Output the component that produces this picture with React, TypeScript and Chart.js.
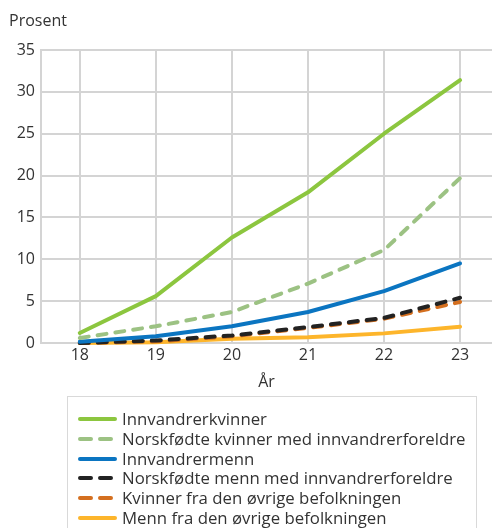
import React, { useEffect, useRef } from "react";
import { Chart, registerables } from "chart.js";

Chart.register(...registerables);

const years = [18, 19, 20, 21, 22, 23];
const innvandrerkvinner = [1.2, 5.6, 12.6, 18.0, 25.0, 31.4];
const norskfodteKvinner = [0.6, 2.0, 3.7, 7.1, 11.1, 19.7];
const innvandrermenn = [0.15, 0.8, 2.0, 3.7, 6.2, 9.5];
const norskfodteMenn = [0.0, 0.3, 0.9, 1.9, 3.0, 5.4];
const kvinnerOvrige = [0.0, 0.2, 0.8, 1.8, 2.9, 4.9];
const mennOvrige = [0.0, 0.1, 0.5, 0.7, 1.15, 1.95];

const seriesLabels = [
  "Innvandrerkvinner",
  "Norskfødte kvinner med innvandrerforeldre",
  "Innvandrermenn",
  "Norskfødte menn med innvandrerforeldre",
  "Kvinner fra den øvrige befolkningen",
  "Menn fra den øvrige befolkningen",
];
const seriesValues = [
  innvandrerkvinner,
  norskfodteKvinner,
  innvandrermenn,
  norskfodteMenn,
  kvinnerOvrige,
  mennOvrige,
];
const seriesColors = ["#8cc63f", "#9cc283", "#0b75c1", "#222222", "#d46f1f", "#fdb52b"];
const seriesDashed = [false, true, false, true, true, false];

const yAxisTitle = "Prosent";
const xAxisTitle = "År";

const FONT = '"Open Sans", "Noto Sans", sans-serif';
const TEXT = "#333333";
const GRID = "#d4d4d4";

export default function App() {
  const ref = useRef<HTMLCanvasElement | null>(null);

  useEffect(() => {
    if (!ref.current) return;
    const titlePlugin = {
      id: "yTitle",
      afterDraw(chart: any) {
        const ctx = chart.ctx;
        ctx.save();
        ctx.font = `16px ${FONT}`;
        ctx.fillStyle = TEXT;
        ctx.textBaseline = "alphabetic";
        ctx.textAlign = "left";
        ctx.fillText(yAxisTitle, 9, 26);
        ctx.restore();
      },
    };
    const chart = new Chart(ref.current, {
      type: "line",
      data: {
        datasets: seriesLabels.map((label, i) => ({
          label,
          data: years.map((x, j) => ({ x, y: seriesValues[i][j] })),
          borderColor: seriesColors[i],
          backgroundColor: seriesColors[i],
          borderWidth: 4,
          borderDash: seriesDashed[i] ? [9, 9] : [],
          borderCapStyle: "round",
          borderJoinStyle: "round",
          pointRadius: 0,
          tension: 0,
          fill: false,
          clip: false,
        })),
      },
      options: {
        animation: false,
        responsive: false,
        devicePixelRatio: 1,
        layout: { padding: { top: 50, left: 0, right: 0, bottom: 0 } },
        plugins: {
          legend: { display: false },
          tooltip: { enabled: false },
          title: { display: false },
        },
        scales: {
          x: {
            type: "linear",
            min: 17.49,
            max: 23.42,
            afterFit(scale: any) {
              scale.height = 57;
            },
            ticks: {
              stepSize: 1,
              includeBounds: false,
              autoSkip: false,
              maxRotation: 0,
              padding: 3,
              color: TEXT,
              font: { family: FONT, size: 16 },
              callback: (v: any) => String(v),
            },
            grid: { color: GRID, lineWidth: 2, drawTicks: false },
            border: { color: GRID, width: 2 },
            title: {
              display: true,
              text: xAxisTitle,
              color: TEXT,
              font: { family: FONT, size: 16 },
              padding: { top: 0, bottom: 8 },
            },
          },
          y: {
            min: 0,
            max: 35,
            afterFit(scale: any) {
              scale.width = 41;
            },
            ticks: {
              stepSize: 5,
              padding: 6,
              color: TEXT,
              font: { family: FONT, size: 16 },
            },
            grid: { color: GRID, lineWidth: 2, drawTicks: false },
            border: { color: GRID, width: 2 },
          },
        },
      },
      plugins: [titlePlugin],
    });
    return () => chart.destroy();
  }, []);

  return (
    <div style={{ position: "absolute", left: 0, top: 0, width: 492, height: 528, overflow: "hidden", background: "#fff" }}>
      <canvas ref={ref} width={492} height={400} style={{ position: "absolute", left: 0, top: 0, width: 492, height: 400 }} />
      <div
        style={{
          position: "absolute",
          left: 67,
          top: 396,
          width: 410,
          height: 150,
          border: "1px solid #d9d9d9",
          boxSizing: "border-box",
        }}
      />
      {seriesLabels.map((label, i) => {
        const cy = 419 + i * 19.8;
        return (
          <div key={label}>
            <svg width={42} height={10} style={{ position: "absolute", left: 77, top: cy - 5 }}>
              <line
                x1={3}
                y1={5}
                x2={38}
                y2={5}
                stroke={seriesColors[i]}
                strokeWidth={4}
                strokeLinecap="round"
                strokeDasharray={seriesDashed[i] ? "11 9" : undefined}
              />
            </svg>
            <div
              style={{
                position: "absolute",
                left: 122,
                top: cy - 12,
                height: 24,
                lineHeight: "24px",
                fontFamily: FONT,
                fontSize: 16.8,
                color: TEXT,
                whiteSpace: "nowrap",
              }}
            >
              {label}
            </div>
          </div>
        );
      })}
    </div>
  );
}
